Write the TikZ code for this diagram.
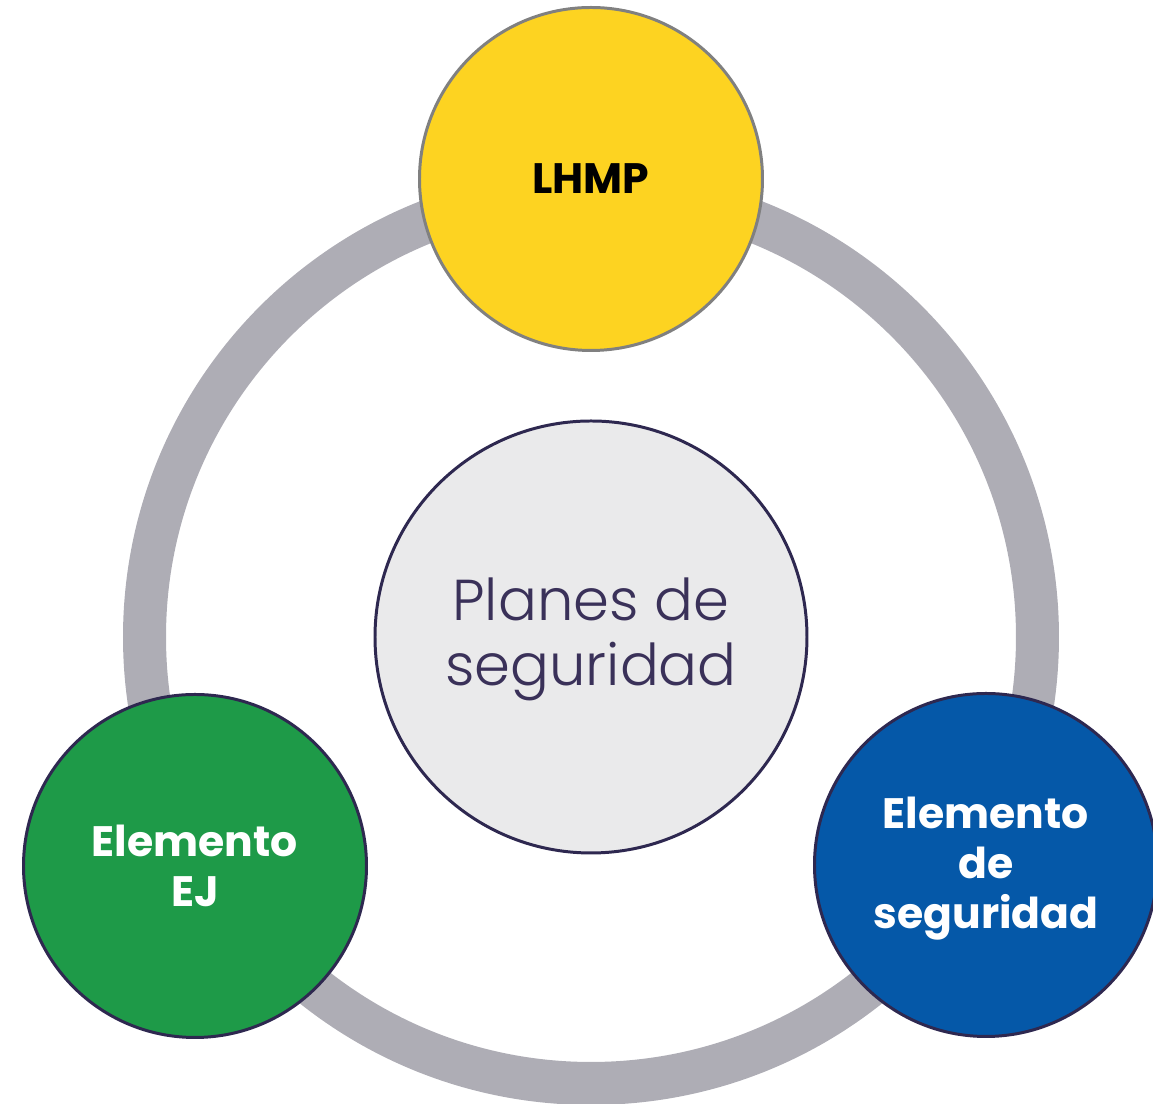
\documentclass[tikz,border=0pt]{standalone}
\usepackage{fontspec}
\setmainfont{Poppins}
\newfontfamily\lightfont{Poppins Light}
\definecolor{ringgray}{HTML}{AEADB5}
\definecolor{yel}{HTML}{FDD321}
\definecolor{grn}{HTML}{1E9A48}
\definecolor{blu}{HTML}{0558A8}
\definecolor{dpurp}{HTML}{2E2850}
\definecolor{cgray}{HTML}{EAEAEB}
\definecolor{txtp}{HTML}{3A3159}
\newlength\pxu
\setlength\pxu{0.01cm}
\tikzset{
  px/.style={x=0.01cm,y=-0.01cm},
  outer/.style={circle,minimum size=343\pxu,inner sep=0pt,line width=0.85pt,align=center,font=\bfseries\fontsize{12.1}{14.2}\selectfont},
}
\begin{document}
\begin{tikzpicture}[px]
\useasboundingbox (0,0) rectangle (1153,1104);
\coordinate (c) at (591,637);
\draw[ringgray,line width=43\pxu] (c) circle[radius=446.5];
\node[circle,minimum size=432\pxu,inner sep=0pt,fill=cgray,draw=dpurp,line width=0.85pt,text=txtp,align=center,font=\lightfont\fontsize{16.4}{18.5}\selectfont] (center) at (c) {};
\node[text=txtp,align=center,font=\lightfont\fontsize{16.4}{18.5}\selectfont,yshift=-2\pxu] (centertxt) at (center.center) {Planes de\\seguridad};
\node[outer,fill=yel,draw=gray,text=black] (lhmp) at (591,179) {LHMP};
\node[outer,fill=grn,draw=dpurp,text=white] (ej) at (195,866) {Elemento\\EJ};
\node[outer,fill=blu,draw=dpurp,text=white] (seg) at (986,865) {};
\node[text=white,align=center,font=\bfseries\fontsize{12.1}{14.2}\selectfont,yshift=-4\pxu] (segtxt) at (seg.center) {Elemento\\de\\seguridad};
\end{tikzpicture}
\end{document}
